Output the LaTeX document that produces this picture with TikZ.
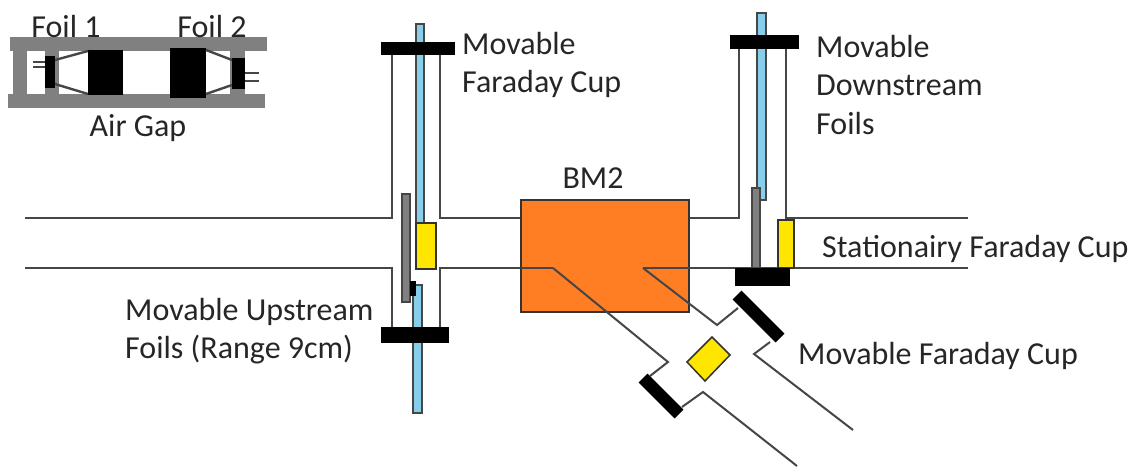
\documentclass[tikz,border=0pt]{standalone}
\usepackage{fontspec}
\setmainfont{Carlito}
\usetikzlibrary{positioning}
\definecolor{rodblue}{RGB}{135,206,235}
\definecolor{foilgray}{RGB}{128,128,128}
\definecolor{magnetorange}{RGB}{255,125,35}
\definecolor{cupyellow}{RGB}{255,230,0}
\definecolor{wiregray}{RGB}{70,70,70}
\tikzset{
    wire/.style={draw=wiregray, line width=2.4pt},
    rod/.style={draw=wiregray, line width=2pt, fill=rodblue},
    foil/.style={draw=wiregray, line width=2pt, fill=foilgray},
    cup/.style={draw=black!80, line width=1.5pt, fill=cupyellow},
    label/.style={inner sep=0pt, align=left, font=\fontsize{32}{38.5}\selectfont, text=black!85}
}

\begin{document}
\begin{tikzpicture}[x=1pt, y=-1pt]
    \useasboundingbox (0,0) rectangle (1137,466);

    % Inset with the air gap
    \fill[foilgray] (10,37) rectangle (267,51);
    \fill[foilgray] (8,94) rectangle (265,108);
    \fill[foilgray] (13,51) rectangle (27,94);
    \fill[foilgray] (45,51) rectangle (59,94);
    \fill[foilgray] (230,51) rectangle (245,94);
    \fill (45,56) rectangle (55,88);
    \fill (88,50) rectangle (123,95);
    \fill (170,48) rectangle (206,98);
    \fill (232,58) rectangle (245,89);
    \draw[wire] (55,60) -- (88,51);
    \draw[wire] (55,84) -- (88,94);
    \draw[wire] (206,50) -- (232,60);
    \draw[wire] (206,94) -- (232,85);
    \foreach \y in {62,67} \draw[wire] (33,\y) -- (45,\y);
    \foreach \y in {73,81} \draw[wire] (245,\y) -- (259,\y);
    \node[label] (foilone) at (66,26) {Foil 1};
    \node[label] (foiltwo) at (212,26) {Foil 2};
    \node[label] (airgap) at (138,128) {Air Gap};

    % Beam pipe
    \draw[wire] (25,218) -- (392,218) -- (392,50);
    \draw[wire] (25,268) -- (392,268) -- (392,328);
    \draw[wire] (440,50) -- (440,218) -- (739,218) -- (739,45);
    \draw[wire] (440,328) -- (440,268) -- (553,268);
    \draw[wire] (786,45) -- (786,218) -- (968,218);

    % Bending magnet
    \node[draw=black!80, line width=1.8pt, fill=magnetorange, minimum width=168pt, minimum height=112pt, inner sep=0pt] (magnet) at (605,256) {};
    \node[label] (magnetlabel) at (593,178) {BM2};
    \draw[wire] (521,268) -- (553,268);
    \draw[wire] (643,268) -- (968,268);

    % Upstream station
    \draw[rod] (416,24) rectangle (424,223);
    \draw[rod] (413,285) rectangle (422,413);
    \draw[foil] (402,194) rectangle (410,302);
    \fill (410,281) rectangle (416,296);
    \draw[cup] (416,223) rectangle (436,269);
    \fill (381,42) rectangle (455,55);
    \fill (381,327) rectangle (449,343);
    \node[label, anchor=west] (upcup) at (462,65) {Movable\\Faraday Cup};
    \node[label, anchor=west] (upfoils) at (125,331) {Movable Upstream\\Foils (Range 9cm)};

    % Downstream station
    \draw[rod] (757,13) rectangle (766,200);
    \draw[foil] (752,188) rectangle (760,268);
    \draw[cup] (778,220) rectangle (794,268);
    \fill (730,35) rectangle (799,49);
    \fill (735,268) rectangle (790,286);
    \node[label, anchor=west] (downfoils) at (816,85) {Movable\\Downstream\\Foils};
    \node[label, anchor=west] (fixedcup) at (822,249) {Stationairy Faraday Cup};

    % Side branch behind the magnet
    \draw[wire, line width=2pt] (553,268) -- (668,362) -- (650,376);
    \draw[wire, line width=2pt] (682,407) -- (703,392) -- (797,466);
    \draw[wire, line width=2pt] (643,268) -- (717,325) -- (738,308);
    \draw[wire, line width=2pt] (770,342) -- (754,354) -- (853,430);
    \draw[line width=12.5pt] (643,378) -- (679,414);
    \draw[line width=12.5pt] (737,295) -- (780,338);
    \draw[cup] (712,337) -- (730,355) -- (705,381) -- (687,362) -- cycle;
    \node[label, anchor=west] (sidecup) at (798,356) {Movable Faraday Cup};
\end{tikzpicture}
\end{document}
